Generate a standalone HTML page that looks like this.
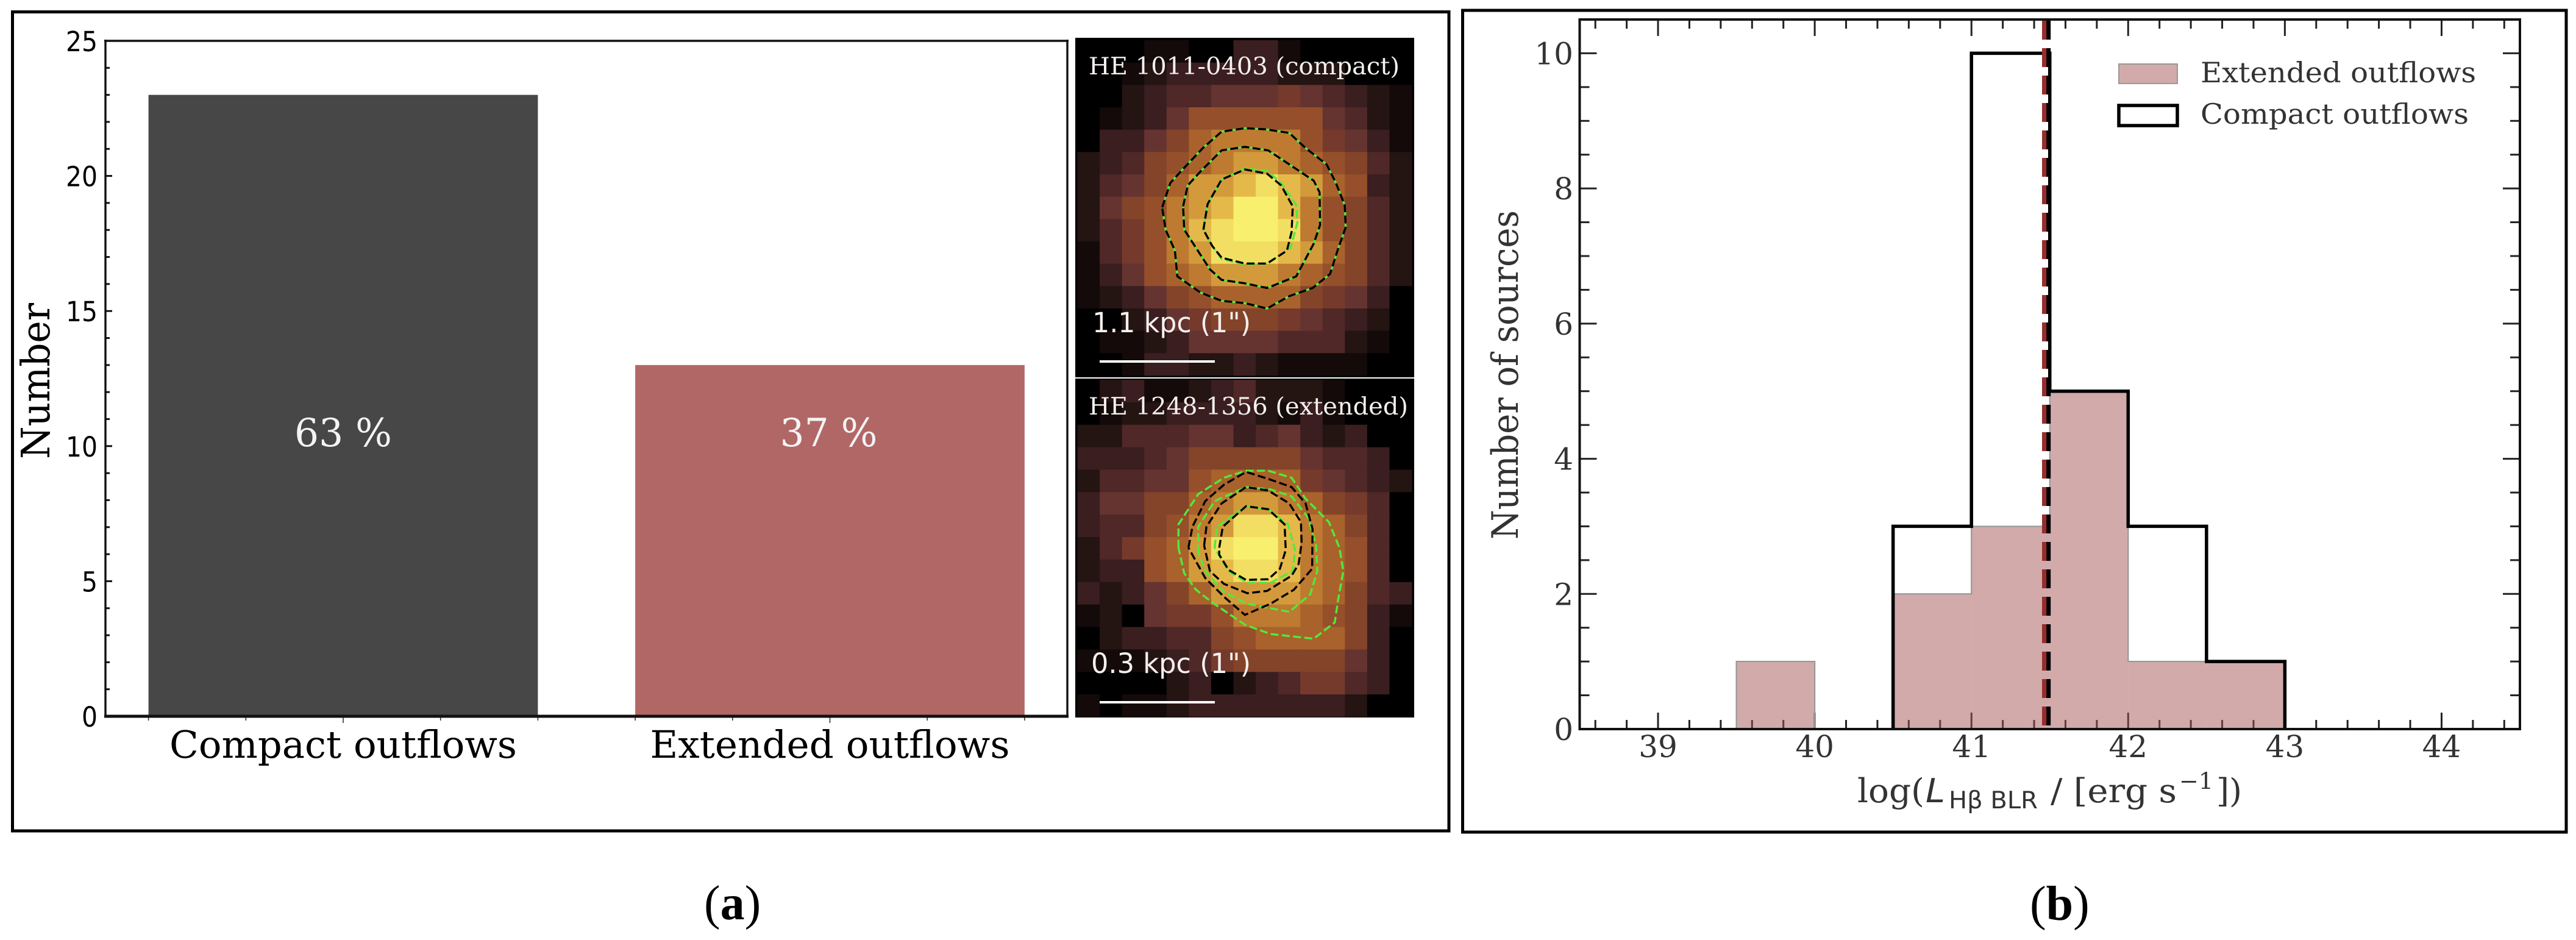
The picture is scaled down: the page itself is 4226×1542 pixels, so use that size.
<!DOCTYPE html>
<html lang="en">
<head>
<meta charset="utf-8">
<title>Outflow size statistics and H-beta BLR luminosity histogram</title>
<style>
html,body{margin:0;padding:0;background:#fff;}
svg{display:block;}
.serif{font-family:"DejaVu Serif","Liberation Serif",serif;}
.sans{font-family:"DejaVu Sans","Liberation Sans",sans-serif;}
.cap{font-family:"Liberation Serif",serif;}
</style>
</head>
<body>
<svg id="root" xmlns="http://www.w3.org/2000/svg" width="4226" height="1542" viewBox="0 0 4226 1542">
  <rect x="0" y="0" width="4226" height="1542" fill="#fff"/>
  <rect x="20.5" y="19.5" width="2356.5" height="1343.5" fill="none" stroke="#000" stroke-width="5"/>
  <rect x="2399.5" y="17" width="1810.5" height="1348" fill="none" stroke="#000" stroke-width="5"/>

  <g id="panelA"></g>
  <g id="imgTop"></g>
  <g id="imgBottom"></g>
  <g id="panelB"></g>

  <text class="serif" transform="translate(81,753) rotate(-90)" font-size="65" textLength="256" lengthAdjust="spacingAndGlyphs" fill="#000">Number</text>

  <g>
    <text class="serif" x="1786" y="122" font-size="39" textLength="510" lengthAdjust="spacingAndGlyphs" fill="#f4f0ee">HE 1011-0403 (compact)</text>
    <text class="sans" x="1792" y="545" font-size="45" textLength="260" lengthAdjust="spacingAndGlyphs" fill="#f4f0ee">1.1 kpc (1")</text>
    <rect x="1804" y="591" width="189" height="4" fill="#fff"/>
  </g>
  <g>
    <text class="serif" x="1786" y="680" font-size="39" textLength="524" lengthAdjust="spacingAndGlyphs" fill="#f4f0ee">HE 1248-1356 (extended)</text>
    <text class="sans" x="1790" y="1104" font-size="45" textLength="262" lengthAdjust="spacingAndGlyphs" fill="#f4f0ee">0.3 kpc (1")</text>
    <rect x="1804" y="1150" width="189" height="4" fill="#fff"/>
  </g>

  <text class="serif" transform="translate(2490,885) rotate(-90)" font-size="60" textLength="540" lengthAdjust="spacingAndGlyphs" fill="#333">Number of sources</text>

  <g fill="#333">
    <text class="serif" x="3047" y="1316" font-size="54" textLength="110" lengthAdjust="spacingAndGlyphs">log(</text>
    <text class="sans" x="3159" y="1316" font-size="54" font-style="italic" textLength="32" lengthAdjust="spacingAndGlyphs">L</text>
    <text class="sans" x="3197" y="1326" font-size="39" textLength="146" lengthAdjust="spacingAndGlyphs">Hβ BLR</text>
    <text class="serif" x="3364" y="1316" font-size="54" textLength="207" lengthAdjust="spacingAndGlyphs">/ [erg s</text>
    <text class="serif" x="3575" y="1294" font-size="37" textLength="56" lengthAdjust="spacingAndGlyphs">−1</text>
    <text class="serif" x="3636" y="1316" font-size="54" textLength="42" lengthAdjust="spacingAndGlyphs">])</text>
  </g>

  <g>
    <rect x="3476" y="105" width="96" height="32" fill="rgba(165,85,85,.5)" stroke="#999" stroke-width="2"/>
    <text class="serif" x="3610" y="135" font-size="46" textLength="452" lengthAdjust="spacingAndGlyphs" fill="#333">Extended outflows</text>
    <rect x="3476" y="173" width="96" height="33" fill="#fff" stroke="#000" stroke-width="5.5"/>
    <text class="serif" x="3610" y="203" font-size="46" textLength="440" lengthAdjust="spacingAndGlyphs" fill="#333">Compact outflows</text>
  </g>

  <text class="cap" x="1155" y="1508" font-size="80" fill="#000">(<tspan font-weight="bold">a</tspan>)</text>
  <text class="cap" x="3330" y="1509" font-size="80" fill="#000">(<tspan font-weight="bold">b</tspan>)</text>
</svg>

<script>
// ---------- Panel (a) data ----------
var barCategories = ['Compact outflows', 'Extended outflows'];
var barValues = [23, 13];
var barShares = ['63 %', '37 %'];
var barColors = ['#474747', '#b26767'];
var barYTicks = [0, 5, 10, 15, 20, 25];
var barYMinor = [1, 2, 3, 4, 6, 7, 8, 9, 11, 12, 13, 14, 16, 17, 18, 19, 21, 22, 23, 24];
var barXMajor = [0, 1];
var barXMinor = [-0.4, -0.2, 0.2, 0.4, 0.6, 0.8, 1.2, 1.4];

// ---------- Panel (b) data ----------
var binEdges = [39.5, 40, 40.5, 41, 41.5, 42, 42.5, 43];
var extendedCounts = [1, 0, 2, 3, 5, 1, 1];
var compactCounts = [0, 0, 3, 10, 5, 3, 1];
var medianExtended = 41.466;
var medianCompact = 41.492;
var histXTicks = [39, 40, 41, 42, 43, 44];
var histXMinor = [38.6, 38.8, 39.2, 39.4, 39.6, 39.8, 40.2, 40.4, 40.6, 40.8, 41.2, 41.4, 41.6, 41.8, 42.2, 42.4, 42.6, 42.8, 43.2, 43.4, 43.6, 43.8, 44.2, 44.4];
var histYTicks = [0, 2, 4, 6, 8, 10];
var histYMinor = [0.5, 1, 1.5, 2.5, 3, 3.5, 4.5, 5, 5.5, 6.5, 7, 7.5, 8.5, 9, 9.5];

// ---------- Image data: flux level per detector cell ----------
var fluxRamp = ['#000000','#140a0a','#241412','#3a1e20','#4f2827','#653430','#753a2c','#844429','#964f2b','#a9622b','#bd7a30','#d39a3c','#e4b94a','#f2de62','#f8ef6e'];
var fluxCompact = [
 [0,0,0,1,1,0,0,3,3,1,0,0,0,0,0],
 [0,0,1,2,3,3,3,3,3,2,2,2,0,0,0],
 [0,0,2,3,4,4,5,5,5,6,5,4,3,2,1],
 [0,1,2,3,5,8,8,8,8,8,8,5,4,2,1],
 [0,3,3,5,7,9,10,10,10,10,8,6,5,3,1],
 [2,3,4,7,8,9,10,11,11,10,9,8,7,4,2],
 [2,4,5,7,9,11,11,12,13,12,11,9,8,3,2],
 [2,5,7,8,10,11,12,14,14,12,10,8,7,4,2],
 [2,4,6,8,10,12,13,14,14,13,10,8,7,4,2],
 [1,4,6,8,10,11,13,13,13,12,11,9,7,4,2],
 [1,3,5,8,9,10,11,11,11,10,9,8,7,4,2],
 [1,2,3,5,7,8,9,9,9,9,7,6,5,3,0],
 [0,0,2,3,5,6,7,7,7,6,5,4,3,2,0],
 [0,1,1,2,3,5,5,5,5,4,4,4,2,1,0],
 [0,0,1,3,3,2,2,3,2,1,1,1,1,0,0]
];
var fluxExtended = [
 [0,2,3,1,1,2,3,4,2,2,2,1,0,0,0],
 [0,1,2,2,3,3,3,3,2,1,3,1,0,0,0],
 [2,2,4,4,4,5,5,3,4,5,3,2,3,0,0],
 [3,3,3,4,5,7,7,7,7,7,5,4,4,3,0],
 [2,4,4,5,5,8,9,9,9,9,6,5,4,3,2],
 [3,5,5,7,7,9,10,11,11,10,9,7,6,4,0],
 [3,4,4,7,8,10,11,13,13,12,10,9,7,4,0],
 [2,4,6,8,9,11,13,14,14,12,10,9,8,4,0],
 [2,3,3,8,9,11,12,13,13,12,10,9,8,4,0],
 [3,2,3,5,7,9,11,11,11,11,10,9,7,4,3],
 [1,2,0,5,6,6,8,10,10,10,9,8,7,3,1],
 [0,2,3,3,4,4,7,8,9,9,9,9,7,3,0],
 [1,1,1,2,3,4,6,7,7,7,7,7,5,3,0],
 [0,0,0,0,2,3,0,2,3,4,6,6,4,3,0],
 [1,0,1,1,2,3,3,3,3,3,3,3,2,0,0]
];

// ---------- Contours (detector coordinates) ----------
var compactOuter = [[435,785],[470,680],[520,625],[610,530],[690,460],[790,445],[880,450],[980,465],[1050,530],[1140,600],[1180,680],[1218,775],[1222,870],[1190,960],[1155,1070],[1080,1130],[980,1165],[885,1218],[790,1195],[690,1185],[600,1150],[500,1080],[490,970],[450,880],[435,785]];
var compactMiddle = [[525,780],[545,690],[600,630],[690,540],[790,525],[890,540],[980,600],[1085,670],[1110,720],[1112,860],[1085,940],[1010,1080],[885,1130],[790,1110],[690,1095],[640,1050],[575,950],[530,880],[525,780]];
var compactInner = [[612,880],[630,770],[690,665],[790,622],[885,640],[945,690],[995,780],[990,890],[970,970],[885,1025],[790,1025],[690,1000],[650,950],[612,880]];
var compactInnerGreen = [[612,880],[630,770],[690,665],[790,618],[885,628],[945,680],[1010,775],[1015,850],[985,960],[885,1025],[790,1030],[690,1005],[650,950],[612,880]];
var extendedOuterBlack = [[548,780],[565,690],[620,580],[700,510],[795,455],[890,485],[990,520],[1050,590],[1080,700],[1078,870],[1000,960],[900,1020],[790,1068],[700,990],[620,910],[548,780]];
var extendedMiddleBlack = [[615,770],[625,690],[690,590],[795,520],[890,535],[980,590],[1030,670],[1033,760],[1020,850],[990,900],[885,965],[800,975],[700,935],[640,880],[615,770]];
var extendedInnerBlack = [[680,780],[695,690],[795,602],[890,615],[960,680],[965,790],[940,870],[890,915],[795,918],[720,875],[680,810],[680,780]];
var extendedOuterGreen = [[505,780],[505,680],[590,550],[700,480],[795,450],[890,450],[990,480],[1050,570],[1150,670],[1195,780],[1212,880],[1190,1000],[1175,1100],[1085,1170],[900,1150],[790,1110],[650,1015],[580,960],[530,890],[505,780]];
var extendedMiddleGreen = [[590,800],[590,690],[660,580],[795,520],[900,530],[990,560],[1060,650],[1095,770],[1100,880],[1070,980],[980,1055],[800,1020],[700,970],[620,880],[590,800]];
var extendedInnerGreen = [[660,780],[670,690],[795,602],[890,615],[975,680],[1005,790],[995,880],[900,930],[800,930],[720,880],[660,780]];

var NS = 'http://www.w3.org/2000/svg';
function make(parent, tag, props) {
  var el = document.createElementNS(NS, tag);
  for (var k in props) { el.setAttribute(k, props[k]); }
  parent.appendChild(el);
  return el;
}
function label(el, txt) { el.textContent = txt; return el; }

// ---------- Panel (a) ----------
(function () {
  var g = document.getElementById('panelA');
  var left = 173, right = 1751, top = 67, bottom = 1175;
  var catX = function (v) { return 563 + v * 798.5; };
  var valY = function (v) { return bottom - v * (bottom - top) / 25; };
  var barWidth = 0.8 * 798.5;

  barValues.forEach(function (v, i) {
    var r = make(g, 'rect', {x: catX(i) - barWidth / 2, y: valY(v), width: barWidth, height: valY(0) - valY(v), fill: barColors[i]});
    
    
    var s = make(g, 'text', {x: catX(i) - (i === 0 ? 0 : 2), y: 732, 'text-anchor': 'middle', 'font-size': 64, fill: '#f4f4f4', 'class': 'serif', textLength: 160, lengthAdjust: 'spacingAndGlyphs'});
    label(s, barShares[i]);
    
    
    var c = make(g, 'text', {x: catX(i), y: 1243, 'text-anchor': 'middle', 'font-size': 62, fill: '#000', 'class': 'serif', textLength: i === 0 ? 570 : 590, lengthAdjust: 'spacingAndGlyphs'});
    label(c, barCategories[i]);
    
    
  });

  barYTicks.forEach(function (v) {
    var t = make(g, 'line', {x1: left, x2: left + 11, y1: valY(v), y2: valY(v), stroke: '#111', 'stroke-width': 3});
    
    
    var l = make(g, 'text', {x: 160, y: valY(v) + 17, 'text-anchor': 'end', 'font-size': 45, fill: '#000', 'class': 'sans', textLength: String(v).length === 2 ? 52 : 26, lengthAdjust: 'spacingAndGlyphs'});
    label(l, String(v));
    
    
  });
  barYMinor.forEach(function (v) {
    var t = make(g, 'line', {x1: left, x2: left + 7, y1: valY(v), y2: valY(v), stroke: '#111', 'stroke-width': 3});
    
    
  });
  barXMajor.forEach(function (v) {
    var t = make(g, 'line', {x1: catX(v), x2: catX(v), y1: bottom, y2: bottom + 11, stroke: '#333', 'stroke-width': 1.6});
    
    
  });
  barXMinor.forEach(function (v) {
    var t = make(g, 'line', {x1: catX(v), x2: catX(v), y1: bottom, y2: bottom + 7, stroke: '#333', 'stroke-width': 1.6});
    
    
  });

  var sl = make(g, 'line', {x1: left, x2: left, y1: top - 2, y2: bottom + 2, stroke: '#111', 'stroke-width': 3.4});
  
  
  var st = make(g, 'line', {x1: left - 2, x2: right + 2, y1: top, y2: top, stroke: '#111', 'stroke-width': 3.4});
  
  
  var sr = make(g, 'line', {x1: right, x2: right, y1: top - 2, y2: bottom + 2, stroke: '#111', 'stroke-width': 3.4});
  
  
  var sb = make(g, 'line', {x1: left - 2, x2: right + 2, y1: bottom, y2: bottom, stroke: '#111', 'stroke-width': 5});
  
  
})();

// ---------- Images ----------
function drawImage(gid, grid, yTop, yBot, y0, cY0, cY1, contours) {
  var g = document.getElementById(gid);
  var bg = make(g, 'rect', {x: 1764, y: yTop, width: 556, height: yBot - yTop, fill: '#000'});
  
  
  var cellX0 = 1767.5, cellW = 36.57;
  var cellH = (cY1 - cY0) / 15;
  grid.forEach(function (row, r) {
    row.forEach(function (v, c) {
      var cell = make(g, 'rect', {x: cellX0 + c * cellW, y: cY0 + r * cellH, width: cellW + 0.4, height: cellH + 0.4, fill: fluxRamp[v]});
      
      
    });
  });
  var toX = function (d) { return 1740 + d / 2.613; };
  var toY = function (d) { return y0 + d / 2.613; };
  contours.forEach(function (ct) {
    var pts = ct.points.map(function (p) { return toX(p[0]).toFixed(1) + ',' + toY(p[1]).toFixed(1); }).join(' ');
    var line = make(g, 'polyline', {points: pts, fill: 'none', stroke: ct.color, 'stroke-width': 3.4, 'stroke-dasharray': '13 5.5', 'stroke-dashoffset': ct.offset});
    
    
  });
}
drawImage('imgTop', fluxCompact, 62, 619, 40, 66, 616, [
  {points: compactOuter, color: '#52e83c', offset: 9},
  {points: compactMiddle, color: '#52e83c', offset: 9},
  {points: compactInnerGreen, color: '#52e83c', offset: 9},
  {points: compactOuter, color: '#000', offset: 0},
  {points: compactMiddle, color: '#000', offset: 0},
  {points: compactInner, color: '#000', offset: 0}
]);
drawImage('imgBottom', fluxExtended, 621, 1177, 600, 623, 1176, [
  {points: extendedOuterGreen, color: '#52e83c', offset: 0},
  {points: extendedMiddleGreen, color: '#52e83c', offset: 0},
  {points: extendedInnerGreen, color: '#52e83c', offset: 0},
  {points: extendedOuterBlack, color: '#000', offset: 0},
  {points: extendedMiddleBlack, color: '#000', offset: 0},
  {points: extendedInnerBlack, color: '#000', offset: 0}
]);

// ---------- Panel (b) ----------
(function () {
  var g = document.getElementById('panelB');
  var left = 2591.5, right = 4134, top = 32, bottom = 1196;
  var xS = function (v) { return left + (v - 38.5) * (right - left) / 6; };
  var yS = function (v) { return bottom - v * (bottom - top) / 10.5; };

  // ticks (under the translucent fill)
  histXTicks.forEach(function (v) {
    var a = make(g, 'line', {x1: xS(v), x2: xS(v), y1: bottom, y2: bottom - 27, stroke: '#222', 'stroke-width': 3});
    
    
    var b = make(g, 'line', {x1: xS(v), x2: xS(v), y1: top, y2: top + 27, stroke: '#222', 'stroke-width': 3});
    
    
    var l = make(g, 'text', {x: xS(v), y: 1242, 'text-anchor': 'middle', 'font-size': 50, fill: '#333', 'class': 'serif'});
    label(l, String(v));
    
    
  });
  histXMinor.forEach(function (v) {
    var a = make(g, 'line', {x1: xS(v), x2: xS(v), y1: bottom, y2: bottom - 15, stroke: '#222', 'stroke-width': 3});
    
    
    var b = make(g, 'line', {x1: xS(v), x2: xS(v), y1: top, y2: top + 15, stroke: '#222', 'stroke-width': 3});
    
    
  });
  histYTicks.forEach(function (v) {
    var a = make(g, 'line', {x1: left, x2: left + 28, y1: yS(v), y2: yS(v), stroke: '#222', 'stroke-width': 3});
    
    
    var b = make(g, 'line', {x1: right, x2: right - 28, y1: yS(v), y2: yS(v), stroke: '#222', 'stroke-width': 3});
    
    
    var l = make(g, 'text', {x: 2581, y: yS(v) + 18, 'text-anchor': 'end', 'font-size': 50, fill: '#333', 'class': 'serif'});
    label(l, String(v));
    
    
  });
  histYMinor.forEach(function (v) {
    var a = make(g, 'line', {x1: left, x2: left + 16, y1: yS(v), y2: yS(v), stroke: '#222', 'stroke-width': 3});
    
    
    var b = make(g, 'line', {x1: right, x2: right - 16, y1: yS(v), y2: yS(v), stroke: '#222', 'stroke-width': 3});
    
    
  });

  // extended histogram bars
  extendedCounts.forEach(function (c, i) {
    if (c <= 0) { return; }
    var bar = make(g, 'rect', {x: xS(binEdges[i]), y: yS(c), width: xS(binEdges[i + 1]) - xS(binEdges[i]), height: yS(0) - yS(c), fill: 'rgba(165,85,85,.5)', stroke: 'none'});
    
    
  });
  function stepPath(counts) {
    var d = '', i, pen = false;
    for (i = 0; i < counts.length; i++) {
      if (counts[i] > 0) {
        if (!pen) { d += 'M' + xS(binEdges[i]) + ' ' + yS(0); pen = true; }
        d += 'L' + xS(binEdges[i]) + ' ' + yS(counts[i]) + 'L' + xS(binEdges[i + 1]) + ' ' + yS(counts[i]);
      } else if (pen) {
        d += 'L' + xS(binEdges[i]) + ' ' + yS(0);
        pen = false;
      }
    }
    if (pen) { d += 'L' + xS(binEdges[counts.length]) + ' ' + yS(0); }
    return d;
  }
  var eo = make(g, 'path', {d: stepPath(extendedCounts), fill: 'none', stroke: '#999', 'stroke-width': 2.2});
  
  
  var co = make(g, 'path', {d: stepPath(compactCounts), fill: 'none', stroke: '#000', 'stroke-width': 5.5});
  
  

  // medians
  var mr = make(g, 'line', {x1: xS(medianExtended), x2: xS(medianExtended), y1: top + 2, y2: bottom, stroke: '#962d2d', 'stroke-width': 8, 'stroke-dasharray': '31 14'});
  
  
  var mc = make(g, 'line', {x1: xS(medianCompact), x2: xS(medianCompact), y1: top + 2, y2: bottom, stroke: '#000', 'stroke-width': 7, 'stroke-dasharray': '31 14'});
  
  

  // spines
  var sl = make(g, 'line', {x1: left, x2: left, y1: top - 2, y2: bottom + 2, stroke: '#111', 'stroke-width': 4});
  
  
  var sr = make(g, 'line', {x1: right, x2: right, y1: top - 2, y2: bottom + 2, stroke: '#111', 'stroke-width': 4});
  
  
  var st = make(g, 'line', {x1: left - 2, x2: right + 2, y1: top, y2: top, stroke: '#111', 'stroke-width': 4});
  
  
  var sb = make(g, 'line', {x1: left - 2, x2: right + 2, y1: bottom, y2: bottom, stroke: '#111', 'stroke-width': 4});
  
  
})();
</script>
</body>
</html>
